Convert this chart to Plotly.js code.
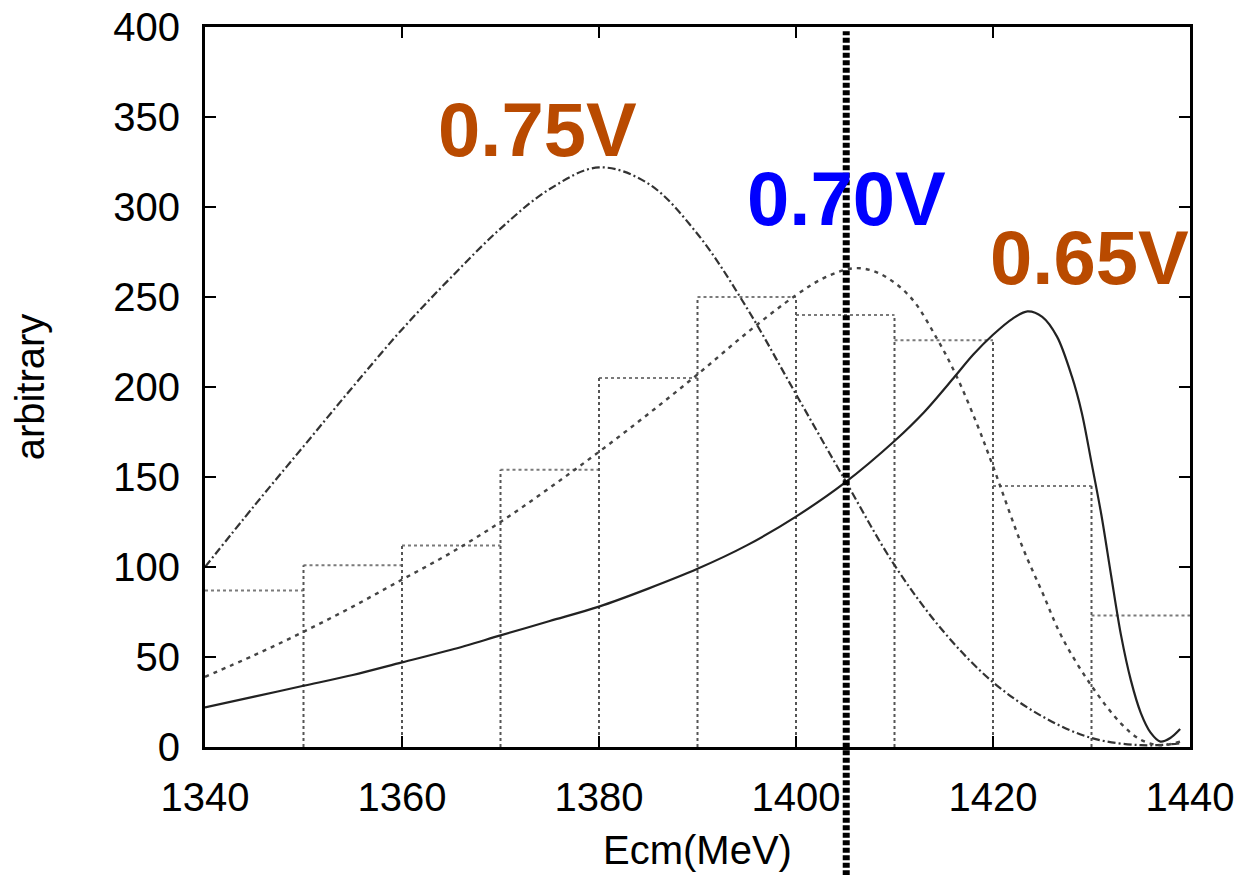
<!DOCTYPE html>
<html>
<head>
<meta charset="utf-8">
<script src="https://cdn.plot.ly/plotly-3.0.1.min.js"></script>
<style>html,body{margin:0;padding:0;background:#fff;}#chart{width:1246px;height:875px;}</style>
</head>
<body>
<div id="chart"></div>
<script>
// Histogram bins (10 MeV wide)
const binEdges = [1340,1350,1360,1370,1380,1390,1400,1410,1420,1430,1440];
const binCounts = [87,101,112,154,205,250,240,226,145,73];

// 0.75V curve (dash-dot)
const x075 = [1340,1345,1350,1355,1360,1365,1370,1375,1380,1385,1390,1395,1400,1405,1410,1415,1420,1425,1430,1435,1439];
const y075 = [100,134,167,200,232,261,288,310,322,313,285,244,196,148,101,64,36,17,5,1,2];

// 0.70V curve (dashed)
const x070 = [1340,1345,1350,1355,1360,1365,1370,1375,1380,1385,1390,1395,1400,1403,1406,1408.5,1411.6,1414.3,1416.3,1418.4,1420,1423,1425,1427,1430,1433,1435,1437,1439];
const y070 = [39,51,64,78,93,108,125,144,164,185,207,230,251,261,266,263,250,227,206,179,156,111,86,61,34,13,4,1,3];

// 0.65V curve (solid)
const x065 = [1340,1345,1350,1355,1360,1365,1370,1375,1380,1385,1390,1395,1400,1405,1410,1413,1416,1418,1420,1422,1423.5,1425,1426.5,1428,1429,1430,1431,1432,1433,1434,1435,1436,1437,1438,1439];
const y065 = [22,28,34,40,47,54,62,70,78,88,99,112,128,147,170,186,205,218,229,238,242,239,228,206,186,158,129,95,62,37,19,8,3,5,10];

// Marked energy (vertical dotted line)
const markEnergy = [1405.1];

// Labels
const labelText = ['0.75V','0.70V','0.65V'];
const labelX = [1373.8,1405.1,1429.8];
const labelY = [343,305,272];
const labelColor = ['#B94A00','#0000FF','#B94A00'];

// Box tops (horizontal segments) and box edges (vertical segments, each drawn once)
const topX = [], topY = [];
for (let i = 0; i < binCounts.length; i++) {
  topX.push(binEdges[i], binEdges[i+1], null);
  topY.push(binCounts[i], binCounts[i], null);
}
const edgeX = [], edgeY = [];
for (let j = 1; j < binEdges.length - 1; j++) {
  edgeX.push(binEdges[j], binEdges[j], null);
  edgeY.push(0, Math.max(binCounts[j-1], binCounts[j]), null);
}

const traces = [
  {x: topX, y: topY, mode: 'lines', line: {color: '#7a7a7a', width: 2, dash: 'dot'}, hoverinfo: 'skip'},
  {x: edgeX, y: edgeY, mode: 'lines', line: {color: '#555', width: 2, dash: 'dot'}, hoverinfo: 'skip'},
  {x: x075, y: y075, mode: 'lines', line: {color: '#333', width: 2.2, dash: '8px,3px,2px,3px', shape: 'spline', smoothing: 1}},
  {x: x070, y: y070, mode: 'lines', line: {color: '#444', width: 2.4, dash: '4px,5px', shape: 'spline', smoothing: 1}},
  {x: x065, y: y065, mode: 'lines', line: {color: '#222', width: 2.2, shape: 'spline', smoothing: 0.9}}
];

const fontFam = 'Liberation Sans, Arial, sans-serif';
const layout = {
  width: 1246, height: 875,
  margin: {l: 205, r: 56, t: 27, b: 128},
  paper_bgcolor: '#fff', plot_bgcolor: '#fff',
  showlegend: false,
  font: {family: fontFam, color: '#000', size: 40},
  xaxis: {
    range: [1340, 1440], tickvals: [1340,1360,1380,1400,1420,1440],
    ticks: 'inside', ticklen: 11, tickwidth: 2, tickcolor: '#000',
    showline: true, linewidth: 3, linecolor: '#000', mirror: 'ticks',
    showgrid: false, zeroline: false,
    tickfont: {size: 40, family: fontFam},
    ticklabelstandoff: 13,
    title: {text: 'Ecm(MeV)', font: {size: 40, family: fontFam}, standoff: 18}
  },
  yaxis: {
    range: [0, 400], tickvals: [0,50,100,150,200,250,300,350,400],
    ticks: 'inside', ticklen: 11, tickwidth: 2, tickcolor: '#000',
    showline: true, linewidth: 3, linecolor: '#000', mirror: 'ticks',
    showgrid: false, zeroline: false,
    tickfont: {size: 40, family: fontFam},
    ticklabelstandoff: 14,
    title: {text: 'arbitrary', font: {size: 40, family: fontFam}, standoff: 57}
  },
  shapes: markEnergy.map(e => ({
    type: 'line', xref: 'x', yref: 'paper', x0: e, x1: e, y0: -0.178, y1: 0.994,
    line: {color: '#000', width: 7, dash: '5px,2.5px'}
  })),
  annotations: labelText.map((t, i) => ({
    x: labelX[i], y: labelY[i], xref: 'x', yref: 'y', text: '<b>' + t + '</b>',
    showarrow: false, xanchor: 'center', yanchor: 'middle',
    font: {size: 76, color: labelColor[i], family: fontFam}
  }))
};

Plotly.newPlot('chart', traces, layout, {displayModeBar: false, staticPlot: true});
</script>
</body>
</html>
